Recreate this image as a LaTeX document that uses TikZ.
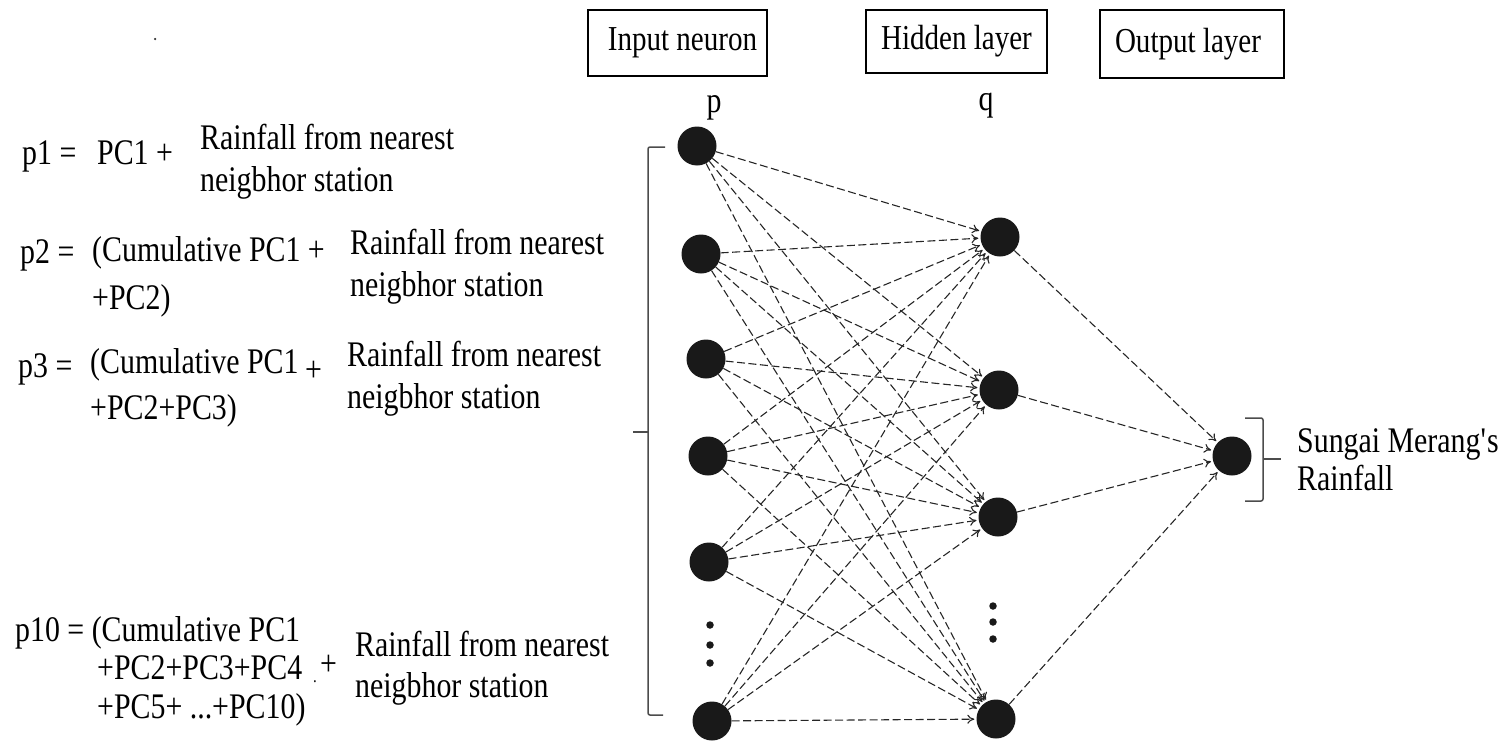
\documentclass[tikz,border=0pt]{standalone}
\usepackage{fontspec}
\setmainfont{Liberation Serif}[FakeStretch=0.83]
\usetikzlibrary{arrows.meta}
\begin{document}
\begin{tikzpicture}[x=1pt,y=-1pt,
  neuron/.style={circle, fill=black!90, inner sep=0pt, minimum size=39pt},
  vdot/.style={circle, fill=black!90, inner sep=0pt, minimum size=7.5pt},
  lbl/.style={anchor=base west, inner sep=0pt, font=\fontsize{36}{40}\selectfont},
  clbl/.style={anchor=base, inner sep=0pt, font=\fontsize{36}{40}\selectfont},
  layerbox/.style={draw, line width=1.4pt, inner sep=0pt, font=\fontsize{35}{40}\selectfont},
  conn/.style={-{To[length=7pt,width=9pt]}, line width=1.1pt, dash pattern=on 8pt off 3.5pt, shorten >=2pt, draw=black!85},
  brk/.style={line width=1.5pt, draw=black!70, rounded corners=2pt}]
\useasboundingbox (0,0) rectangle (1501,744);
% layer boxes
\node[layerbox, minimum width=179pt, minimum height=66pt] (bin) at (677.5,43) {\hspace*{10pt}Input neuron};
\node[layerbox, minimum width=181pt, minimum height=63pt] (bhid) at (956.5,41.5) {Hidden layer};
\node[layerbox, minimum width=184pt, minimum height=68pt] (bout) at (1192,44) {Output layer\hspace*{8pt}};
\node[clbl] (plbl) at (714,112) {p};
\node[clbl] (qlbl) at (986,110) {q};
\node[circle, fill=black!80, inner sep=0pt, minimum size=2.5pt] (stray) at (155,39) {};
% neurons
\node[neuron] (i1) at (697,146) {};
\node[neuron] (i2) at (701,254) {};
\node[neuron] (i3) at (706,359) {};
\node[neuron] (i4) at (708,456) {};
\node[neuron] (i5) at (709,562) {};
\node[neuron] (i6) at (712,721) {};
\node[neuron] (h1) at (1000,237) {};
\node[neuron] (h2) at (999,390) {};
\node[neuron] (h3) at (998,517) {};
\node[neuron] (h4) at (996,719) {};
\node[neuron] (o) at (1232,456) {};
\node[vdot] (id1) at (710,625) {};
\node[vdot] (id2) at (710,645) {};
\node[vdot] (id3) at (710,663) {};
\node[vdot] (hd1) at (993,606) {};
\node[vdot] (hd2) at (993,622) {};
\node[vdot] (hd3) at (993,639) {};
% connectors
\foreach \i in {1,...,6}{\foreach \j in {1,...,4}{\draw[conn] (i\i) -- (h\j);}}
\foreach \j in {1,...,4}{\draw[conn] (h\j) -- (o);}
% brackets
\draw[brk] (665,147) -- (648,147) -- (648,715) -- (663,715);
\draw[brk] (633,432) -- (648,432);
\draw[brk] (1245,418) -- (1263,418) -- (1263,501) -- (1245,501);
\draw[brk] (1263,459) -- (1281,459);
% left texts
\node[lbl] (t1a) at (22,164) {p1 =};
\node[lbl] (t1b) at (97,164) {PC1 +};
\node[lbl] (t1c) at (200,149) {Rainfall from nearest};
\node[lbl] (t1d) at (200,191) {neigbhor station};
\node[lbl] (t2a) at (20,263) {p2 =};
\node[lbl] (t2b) at (92,261) {(Cumulative PC1 +};
\node[lbl] (t2c) at (92,309) {+PC2)};
\node[lbl] (t2d) at (350,254) {Rainfall from nearest};
\node[lbl] (t2e) at (350,296) {neigbhor station};
\node[lbl] (t3a) at (18,377) {p3 =};
\node[lbl] (t3b) at (90,373) {(Cumulative PC1};
\node[lbl] (t3c) at (305,381) {+};
\node[lbl] (t3d) at (90,419) {+PC2+PC3)};
\node[lbl] (t3e) at (347,366) {Rainfall from nearest};
\node[lbl] (t3f) at (347,408) {neigbhor station};
\node[lbl] (t4a) at (15,641) {p10 = (Cumulative PC1};
\node[lbl] (t4b) at (97,679) {+PC2+PC3+PC4};
\node[anchor=base west, inner sep=0pt, font=\fontsize{18}{20}\selectfont] (t4dot) at (313,682) {.};
\node[lbl] (t4c) at (320,675) {+};
\node[lbl] (t4d) at (97,718) {+PC5+ ...+PC10)};
\node[lbl] (t4e) at (355,656) {Rainfall from nearest};
\node[lbl] (t4f) at (355,697) {neigbhor station};
% output label
\node[lbl] (s1) at (1297,452) {Sungai Merang\textquotesingle s};
\node[lbl] (s2) at (1297,490) {Rainfall};
\end{tikzpicture}
\end{document}
